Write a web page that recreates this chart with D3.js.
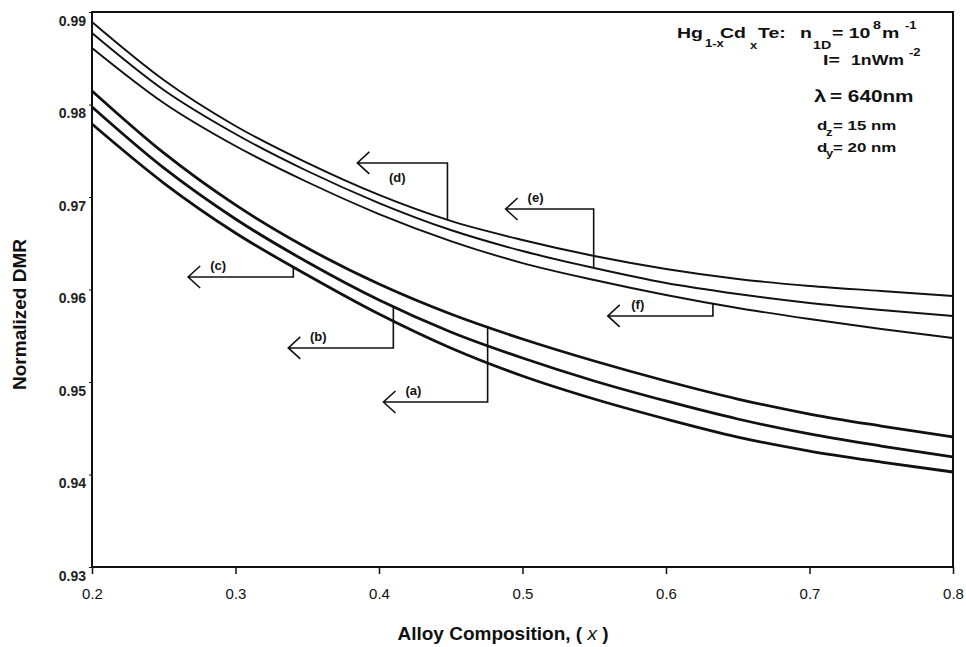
<!DOCTYPE html>
<html>
<head>
<meta charset="utf-8">
<script src="https://cdn.jsdelivr.net/npm/d3@7"></script>
<style>
  html, body { margin: 0; padding: 0; background: #fff; }
  svg { display: block; font-family: 'Liberation Sans', Arial, sans-serif; }
</style>
</head>
<body>
<div id="chart"></div>
<script>
// ---- data ----
const xValues = [0.2, 0.25, 0.3, 0.35, 0.4, 0.45, 0.5, 0.55, 0.6, 0.65, 0.7, 0.75, 0.8];

const seriesA = [0.98146, 0.97476, 0.96914, 0.96449, 0.96059, 0.95735, 0.95465, 0.95227, 0.95011, 0.94816, 0.94654, 0.94524, 0.94405];
const seriesB = [0.97973, 0.97314, 0.96762, 0.96297, 0.95886, 0.95541, 0.95259, 0.95011, 0.94795, 0.94600, 0.94438, 0.94308, 0.94189];
const seriesC = [0.97789, 0.97151, 0.96611, 0.96157, 0.95735, 0.95368, 0.95065, 0.94816, 0.94600, 0.94405, 0.94254, 0.94135, 0.94027];
const seriesD = [0.98892, 0.98265, 0.97768, 0.97368, 0.97022, 0.96741, 0.96535, 0.96362, 0.96222, 0.96114, 0.96038, 0.95984, 0.95930];
const seriesE = [0.98773, 0.98157, 0.97681, 0.97281, 0.96935, 0.96643, 0.96416, 0.96232, 0.96070, 0.95951, 0.95854, 0.95778, 0.95714];
const seriesF = [0.98611, 0.98016, 0.97551, 0.97162, 0.96816, 0.96524, 0.96286, 0.96103, 0.95941, 0.95800, 0.95681, 0.95573, 0.95476];

const xTicks = [0.2, 0.3, 0.4, 0.5, 0.6, 0.7, 0.8];
const yTicks = [0.93, 0.94, 0.95, 0.96, 0.97, 0.98, 0.99];

// callout labels: which curve, where the bracket meets it, where the arrow points, level of the arrow
const annoLabels = ['(a)', '(b)', '(c)', '(d)', '(e)', '(f)'];
const annoX      = [0.4757, 0.4100, 0.3403, 0.4477, 0.5496, 0.6327];
const annoTipX   = [0.4031, 0.3368, 0.2670, 0.3849, 0.4882, 0.5594];
const annoLevel  = [0.94784, 0.95368, 0.96135, 0.97368, 0.96870, 0.95714];

// ---- layout ----
const W = 966, H = 647;
const m = { top: 12, right: 13, bottom: 80, left: 92 };

const svg = d3.select('#chart').append('svg')
  .attr('width', W).attr('height', H);

const x = d3.scaleLinear().domain([0.2, 0.8]).range([m.left, W - m.right]);
const y = d3.scaleLinear().domain([0.93, 0.99]).range([H - m.bottom, m.top]);

const allSeries = [seriesA, seriesB, seriesC, seriesD, seriesE, seriesF];
const thick = [true, true, true, false, false, false];

// frame
svg.append('rect')
  .attr('x', x(0.2)).attr('y', y(0.99))
  .attr('width', x(0.8) - x(0.2)).attr('height', y(0.93) - y(0.99))
  .attr('fill', 'none').attr('stroke', '#111').attr('stroke-width', 2);

// x axis
svg.append('g')
  .attr('transform', `translate(0,${y(0.93)})`)
  .call(d3.axisBottom(x).tickValues(xTicks).tickSize(7).tickPadding(14).tickFormat(d3.format('.1f')))
  .call(g => g.select('.domain').remove())
  .call(g => g.selectAll('.tick line').attr('stroke', '#111').attr('stroke-width', 1.5))
  .call(g => g.selectAll('.tick text')
    .attr('fill', '#111')
    .attr('font-family', "'Liberation Sans', Arial, sans-serif")
    .attr('font-size', '15px'));

// y axis
svg.append('g')
  .attr('transform', `translate(${x(0.2)},0)`)
  .call(d3.axisLeft(y).tickValues(yTicks).tickSize(3).tickPadding(3).tickFormat(d3.format('.2f')))
  .call(g => g.select('.domain').remove())
  .call(g => g.selectAll('.tick line').attr('stroke', '#111'))
  .call(g => g.selectAll('.tick text')
    .attr('fill', '#222')
    .attr('dy', '0.95em')
    .attr('font-family', "'Liberation Sans', Arial, sans-serif")
    .attr('font-weight', 'bold')
    .attr('font-size', '14px'));

// axis titles
svg.append('text')
  .attr('x', 503).attr('y', 640)
  .attr('text-anchor', 'middle')
  .attr('font-size', '19px').attr('font-weight', 'bold').attr('fill', '#111')
  .call(t => {
    t.append('tspan').text('Alloy Composition, ( ');
    t.append('tspan').attr('font-style', 'italic').attr('font-weight', 'normal').text('x');
    t.append('tspan').text(' )');
  });

svg.append('text')
  .attr('transform', `translate(26, ${(y(0.93) + y(0.99)) / 2 + 25}) rotate(-90)`)
  .attr('text-anchor', 'middle')
  .attr('font-size', '19px').attr('font-weight', 'bold').attr('fill', '#111')
  .text('Normalized DMR');

// curves
const line = d3.line()
  .x((d, i) => x(xValues[i]))
  .y(d => y(d))
  .curve(d3.curveMonotoneX);

allSeries.forEach((s, k) => {
  svg.append('path')
    .datum(s)
    .attr('d', line)
    .attr('fill', 'none')
    .attr('stroke', '#111')
    .attr('stroke-width', thick[k] ? 2.8 : 1.9);
});

// callouts
annoLabels.forEach((lab, k) => {
  const curveAt = d3.scaleLinear().domain(xValues).range(allSeries[k]);
  const bx = x(annoX[k]);
  const ly = y(annoLevel[k]);
  const tx = x(annoTipX[k]);
  const cy = y(curveAt(annoX[k]));
  svg.append('path')
    .attr('d', `M${bx},${cy}L${bx},${ly}L${tx},${ly}M${tx + 12},${ly - 11}L${tx},${ly}L${tx + 12},${ly + 11}`)
    .attr('fill', 'none').attr('stroke', '#111').attr('stroke-width', 1.6);
  const below = lab === '(d)';
  svg.append('text')
    .attr('x', tx + (below ? 40 : 30))
    .attr('y', below ? ly + 19 : ly - 7)
    .attr('text-anchor', 'middle')
    .attr('font-size', '13px').attr('font-weight', 'bold').attr('fill', '#111')
    .text(lab);
});

// parameter block (the original lettering is stretched sideways)
const info = svg.append('g').attr('fill', '#111').attr('font-weight', 'bold');
const put = (tx, ty, txt, size, sx = 1.3) => info.append('text')
  .attr('transform', `translate(${tx},${ty}) scale(${sx},1)`)
  .attr('font-size', size + 'px').text(txt);

put(677, 38, 'Hg', 15);
put(705, 47, '1-x', 10);
put(720, 38, 'Cd', 15);
put(750, 49, 'x', 10);
put(758, 38, 'Te:', 15);
put(800, 38, 'n', 15);
put(813, 49, '1D', 11);
put(832, 38, '= 10', 15);
put(873, 29, '8', 11);
put(882, 38, 'm', 15);
put(905, 29, '-1', 10);

put(823, 65, 'I=', 15);
put(851, 65, '1nWm', 15, 1.18);
put(909, 56, '-2', 10);

put(814, 102, '\u03bb', 17);
put(830, 102, '= 640nm', 17, 1.22);

put(817, 130, 'd', 13);
put(826, 136, 'z', 10);
put(833, 130, '= 15 nm', 13);

put(817, 152, 'd', 13);
put(826, 157, 'y', 10);
put(833, 152, '= 20 nm', 13);
</script>
</body>
</html>
